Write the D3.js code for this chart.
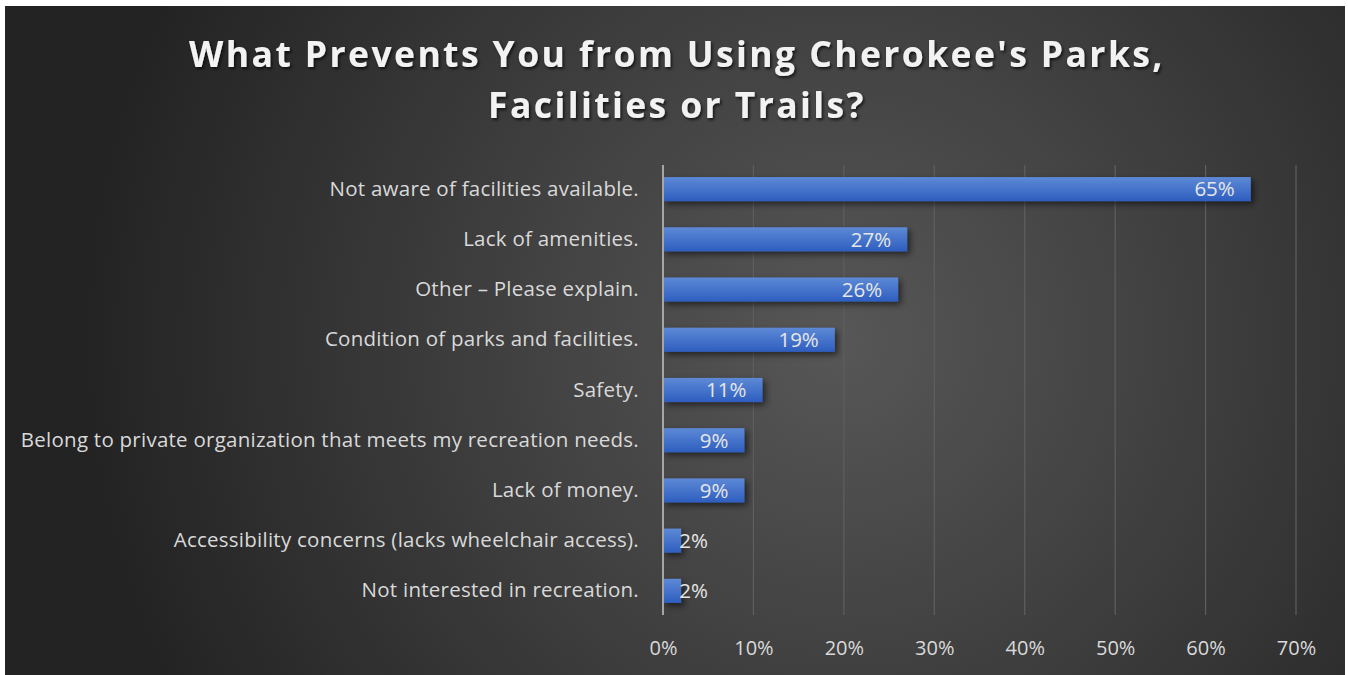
<!DOCTYPE html>
<html>
<head>
<meta charset="utf-8">
<script src="https://cdn.jsdelivr.net/npm/d3@7.9.0/dist/d3.min.js"></script>
<style>
    html, body { margin: 0; padding: 0; background: #fff; }
    svg { display: block; }
</style>
</head>
<body>
<svg id="chart" width="1348" height="675"></svg>
<script>
const categories = [
    'Not aware of facilities available.',
    'Lack of amenities.',
    'Other \u2013 Please explain.',
    'Condition of parks and facilities.',
    'Safety.',
    'Belong to private organization that meets my recreation needs.',
    'Lack of money.',
    'Accessibility concerns (lacks wheelchair access).',
    'Not interested in recreation.',
];
const values = [0.65, 0.27, 0.26, 0.19, 0.11, 0.09, 0.09, 0.02, 0.02];
const xTicks = [0, 0.1, 0.2, 0.3, 0.4, 0.5, 0.6, 0.7];
const titleLines = ["What Prevents You from Using Cherokee's Parks,", 'Facilities or Trails?'];

const width = 1348;
const height = 675;
const font = "'Open Sans', 'Noto Sans', sans-serif";
const plot = { left: 663, right: 1296, top: 165, bottom: 615 };

const svg = d3.select('#chart');
const defs = svg.append('defs');

const bg = defs.append('radialGradient')
    .attr('id', 'bg')
    .attr('gradientUnits', 'userSpaceOnUse')
    .attr('cx', 840).attr('cy', 340).attr('r', 760);
bg.append('stop').attr('offset', '0%').attr('stop-color', '#575757');
bg.append('stop').attr('offset', '100%').attr('stop-color', '#232323');

const barGrad = defs.append('linearGradient')
    .attr('id', 'bar')
    .attr('x1', 0).attr('y1', 0).attr('x2', 0).attr('y2', 1);
barGrad.append('stop').attr('offset', '0%').attr('stop-color', '#5d89d6');
barGrad.append('stop').attr('offset', '100%').attr('stop-color', '#2e5ebf');

const shadow = defs.append('filter').attr('id', 'shadow')
    .attr('x', '-20%').attr('y', '-30%').attr('width', '140%').attr('height', '180%');
shadow.append('feDropShadow')
    .attr('dx', 3).attr('dy', 3).attr('stdDeviation', 3)
    .attr('flood-color', '#000').attr('flood-opacity', 0.55);

const titleShadow = defs.append('filter').attr('id', 'tshadow');
titleShadow.append('feDropShadow')
    .attr('dx', 1.5).attr('dy', 2).attr('stdDeviation', 1.5)
    .attr('flood-color', '#000').attr('flood-opacity', 0.7);

svg.append('rect')
    .attr('x', 5).attr('y', 6)
    .attr('width', 1340).attr('height', 669)
    .attr('fill', 'url(#bg)');

// title
svg.append('g')
    .attr('filter', 'url(#tshadow)')
    .selectAll('text')
    .data(titleLines)
    .join('text')
    .attr('x', 677)
    .attr('y', (d, i) => 67 + i * 51)
    .attr('text-anchor', 'middle')
    .attr('font-family', font)
    .attr('font-weight', 700)
    .attr('font-size', 35.5)
    .attr('letter-spacing', 2.4)
    .attr('fill', '#f2f2f2')
    .text((d) => d);

const xScale = d3.scaleLinear()
    .domain([0, 0.7])
    .range([plot.left, plot.right]);

const yScale = d3.scaleBand()
    .domain(categories)
    .range([plot.top, plot.bottom])
    .paddingInner(0.52)
    .paddingOuter(0.24);

// gridlines
svg.append('g')
    .selectAll('line')
    .data(xTicks.slice(1))
    .join('line')
    .attr('x1', (d) => xScale(d))
    .attr('x2', (d) => xScale(d))
    .attr('y1', plot.top)
    .attr('y2', plot.bottom)
    .attr('stroke', '#5f5f5f')
    .attr('stroke-width', 1.2);

// x tick labels
const xAxis = d3.axisBottom(xScale)
    .tickValues(xTicks)
    .tickFormat(d3.format('.0%'))
    .tickSize(0)
    .tickPadding(0);

svg.append('g')
    .attr('transform', `translate(0, ${plot.bottom + 40})`)
    .call(xAxis)
    .call((g) => g.select('.domain').remove())
    .call((g) => g.selectAll('text')
        .attr('font-family', font)
        .attr('font-size', 20)
        .attr('fill', '#d9d9d9')
        .attr('dy', 0));

// bars
svg.append('g')
    .attr('filter', 'url(#shadow)')
    .selectAll('rect')
    .data(values)
    .join('rect')
    .attr('x', xScale(0))
    .attr('y', (d, i) => yScale(categories[i]))
    .attr('width', (d) => xScale(d) - xScale(0))
    .attr('height', yScale.bandwidth())
    .attr('fill', 'url(#bar)');

// vertical axis line
svg.append('line')
    .attr('x1', plot.left).attr('x2', plot.left)
    .attr('y1', plot.top).attr('y2', plot.bottom)
    .attr('stroke', '#a6a6a6')
    .attr('stroke-width', 2);

// category labels
const yAxis = d3.axisLeft(yScale).tickSize(0).tickPadding(24);
svg.append('g')
    .attr('transform', `translate(${plot.left}, 0)`)
    .call(yAxis)
    .call((g) => g.select('.domain').remove())
    .call((g) => g.selectAll('text')
        .attr('font-family', font)
        .attr('font-size', 20.5)
        .attr('letter-spacing', 0.25)
        .attr('fill', '#d9d9d9'));

// data labels
svg.append('g')
    .selectAll('text')
    .data(values)
    .join('text')
    .attr('x', (d) => Math.max(xScale(d) - 16, xScale(0) + 45))
    .attr('y', (d, i) => yScale(categories[i]) + yScale.bandwidth() / 2)
    .attr('dy', '0.36em')
    .attr('text-anchor', 'end')
    .attr('font-family', font)
    .attr('font-size', 20.5)
    .attr('fill', '#e6e6e6')
    .text(d3.format('.0%'));
</script>
</body>
</html>
